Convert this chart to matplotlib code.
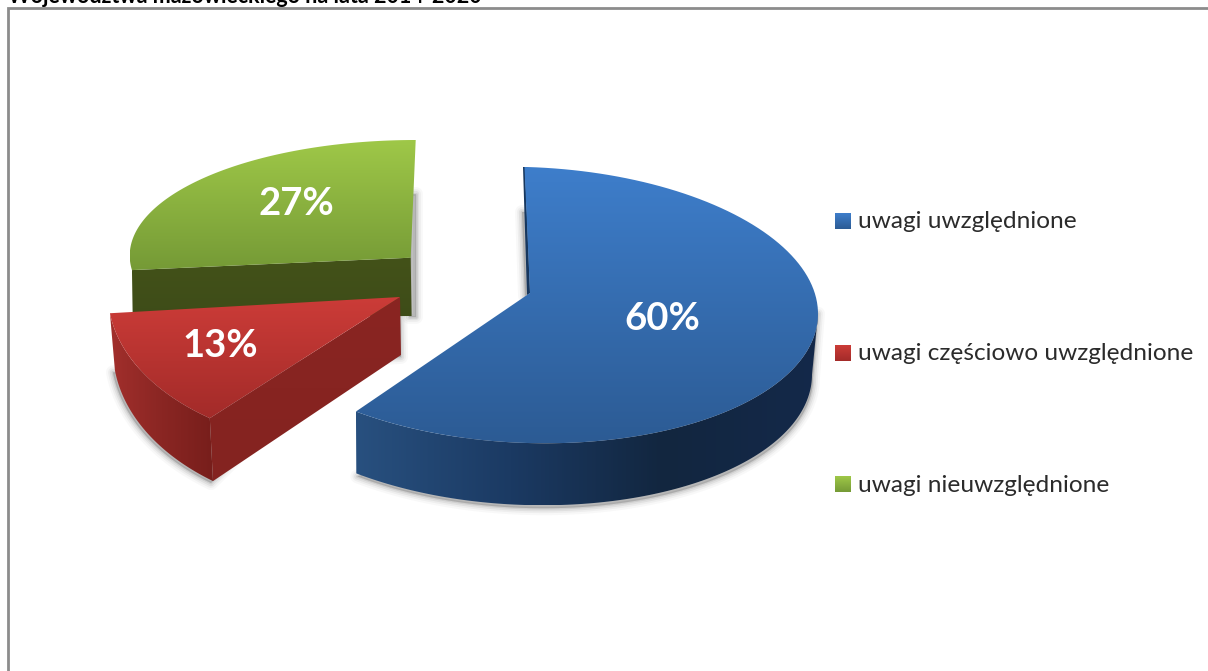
import numpy as np
import matplotlib
matplotlib.use("Agg")
import matplotlib.pyplot as plt
from matplotlib.colors import LinearSegmentedColormap
from matplotlib.patches import Polygon

categories = ["uwagi uwzględnione", "uwagi częściowo uwzględnione", "uwagi nieuwzględnione"]
values = [60, 13, 27]
title_text = "Województwa mazowieckiego na lata 2014-2020"

FONT = "Lato"
W, H = 1208, 671

fig = plt.figure(figsize=(W / 100, H / 100), dpi=100)
ax = fig.add_axes([0, 0, 1, 1])
ax.set_xlim(0, W)
ax.set_ylim(H, 0)
ax.axis("off")

# slice angles, clockwise from 12 o'clock, in matplotlib degrees
fracs = np.array(values) / sum(values)
ends = np.cumsum(fracs) * 360
starts = ends - fracs * 360
t_start = 90 - starts
t_end = 90 - ends


def arc(cx, cy, a, b, t0, t1, tilt=0.0, n=120):
    t = np.radians(np.linspace(t0, t1, n))
    x = cx + a * np.cos(t)
    return np.column_stack([x, cy - b * np.sin(t) + tilt * (x - cx)])


def grad_fill(pts, colors, horizontal=False, zorder=2):
    # gradient image clipped to the polygon
    pts = np.asarray(pts)
    x0, x1 = pts[:, 0].min(), pts[:, 0].max()
    y0, y1 = pts[:, 1].min(), pts[:, 1].max()
    cmap = LinearSegmentedColormap.from_list("g", colors)
    g = np.linspace(0, 1, 256)
    g = g.reshape(1, -1) if horizontal else g.reshape(-1, 1)
    im = ax.imshow(g, cmap=cmap, extent=[x0, x1, y1, y0], aspect="auto", zorder=zorder, interpolation="bilinear")
    poly = Polygon(pts, closed=True, transform=ax.transData, fc="none", ec="none")
    ax.add_patch(poly)
    im.set_clip_path(poly)
    return im


def shadow(pts, zorder=1):
    for lw, alpha in [(10, 0.04), (7, 0.06), (4.5, 0.09), (2, 0.12)]:
        ax.add_patch(Polygon(pts, closed=True, fc="#555555", ec="#555555", lw=lw, alpha=alpha,
                             joinstyle="round", zorder=zorder))


# ---- green slice
g_top = arc(415.7, 255.6, 286, 115.6, t_start[2] + 360, 90)
green_apex = (410.7, 257.7)
green_top = np.vstack([[green_apex], g_top])
green_front = [green_apex, g_top[0], (132.7, 318), (411.6, 316)]
shadow([(409, 194), (416, 194), (416, 317), (409, 317)])

# ---- red slice
r_apex = (400, 297)
r_top = arc(355, 294, 247, 153.5, t_start[1], t_end[1])
r_bot = arc(355.6, 350, 242.6, 162, t_start[1], t_end[1])
red_top = np.vstack([[r_apex], r_top])
red_rim = np.vstack([r_top, r_bot[::-1]])
red_front = [r_apex, r_top[0], r_bot[0], (401, 355)]
shadow(np.vstack([r_bot + [-2, 2], [(401, 357)], [r_apex]]))

# ---- blue slice
b_apex = (530, 293)
TILT = 0.03
b_top = arc(527, 305, 291, 138, 90, t_end[0], TILT)
b_rim_top = arc(527, 305, 291, 138, t_end[0], 0, TILT)
b_rim_bot = arc(525, 366, 287, 139, t_end[0], 0, TILT)
blue_top = np.vstack([[b_apex], [(524.5, 167)], b_top])
blue_rim = np.vstack([b_rim_top, b_rim_bot[::-1]])
blue_sliver = [(523, 167), (525, 167), b_apex, (527, 295)]
shadow(np.vstack([b_rim_bot + [1, 3], [b_rim_top[-1]]]))
shadow([(522, 212), (527, 212), (530, 293), (525, 296)])

# ---- faces, back to front
grad_fill(green_front, ["#435219", "#3e4c18"], zorder=3)
grad_fill(green_top, ["#9fc848", "#759a36"], zorder=4)

grad_fill(red_front, ["#8a2522", "#842320"], zorder=5)
grad_fill(red_rim, ["#a22f2c", "#8a2623", "#771e1b"], horizontal=True, zorder=5)
grad_fill(red_top, ["#cc3c38", "#a32b29"], zorder=6)

ax.add_patch(Polygon(blue_sliver, closed=True, fc="#17375e", ec="none", zorder=7))
grad_fill(blue_rim, ["#28507f", "#1b3a63", "#12263f", "#14294a"], horizontal=True, zorder=7)
grad_fill(blue_top, ["#3e7ecb", "#2c5b94"], zorder=8)

# ---- data labels
label_pos = [(662, 319), (220, 346), (296, 204)]
for v, (x, y) in zip(values, label_pos):
    ax.text(x, y, f"{v}%", color="white", fontsize=27.5, fontweight="bold", family=FONT,
            ha="center", va="center", zorder=10)

# ---- legend
leg_y = [221, 353, 484]
leg_colors = [("#3e7ecb", "#2c5b94"), ("#cc3c38", "#a32b29"), ("#9fc848", "#759a36")]
for name, y, cols in zip(categories, leg_y, leg_colors):
    grad_fill([(835, y - 8), (851, y - 8), (851, y + 8), (835, y + 8)], cols, zorder=9)
    ax.text(858, y + 1, name, fontsize=17.6, color="#2b2b2b", family=FONT, ha="left", va="center", zorder=10)

# ---- frame, runs off the right and bottom
ax.plot([8, 8, W + 5], [H + 5, 8, 8], color="#8c8c8c", lw=2, solid_joinstyle="miter", zorder=11)

# title is cut by the top edge of the page
ax.text(8, 3, title_text, fontsize=15.5, fontweight="bold", color="black", family=FONT,
        ha="left", va="baseline", zorder=11)

ax.set_xlim(0, W)
ax.set_ylim(H, 0)
fig.savefig("out.png", dpi=100, facecolor="white")
